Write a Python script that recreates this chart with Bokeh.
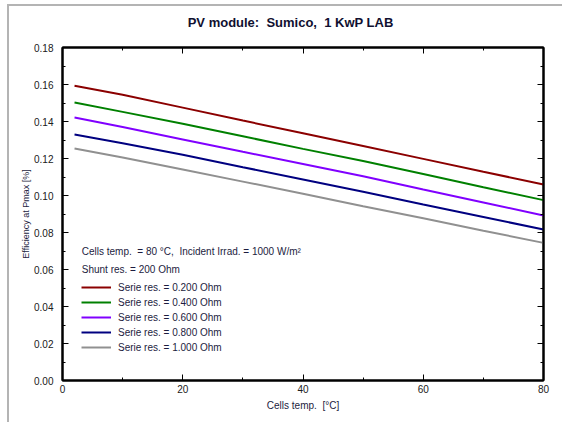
from bokeh.plotting import figure
from bokeh.layouts import column
from bokeh.models import (LinearAxis, FixedTicker, NumeralTickFormatter, Legend, LegendItem,
                          Label, Range1d, Div)
from bokeh.embed import file_html
from bokeh.resources import INLINE

# ---- data ----
temps = [2, 10, 20, 30, 40, 50, 60, 70, 80]
eff_r020 = [0.1593, 0.1545, 0.1475, 0.1405, 0.1337, 0.1268, 0.1198, 0.1128, 0.1060]
eff_r040 = [0.1503, 0.1452, 0.1388, 0.1320, 0.1252, 0.1186, 0.1116, 0.1045, 0.0975]
eff_r060 = [0.1422, 0.1370, 0.1303, 0.1236, 0.1170, 0.1104, 0.1032, 0.0962, 0.0892]
eff_r080 = [0.1330, 0.1283, 0.1220, 0.1153, 0.1087, 0.1020, 0.0951, 0.0884, 0.0816]
eff_r100 = [0.1254, 0.1205, 0.1140, 0.1075, 0.1010, 0.0942, 0.0877, 0.0810, 0.0744]
series_labels = ["Serie res. = 0.200 Ohm", "Serie res. = 0.400 Ohm", "Serie res. = 0.600 Ohm",
                 "Serie res. = 0.800 Ohm", "Serie res. = 1.000 Ohm"]
series_colors = ["#8b0000", "#008000", "#8000ff", "#000080", "#909090"]
x_ticks = [0, 20, 40, 60, 80]
x_minor = [10, 30, 50, 70]
y_ticks = [0.00, 0.02, 0.04, 0.06, 0.08, 0.10, 0.12, 0.14, 0.16, 0.18]
y_minor = [0.01, 0.03, 0.05, 0.07, 0.09, 0.11, 0.13, 0.15, 0.17]

FONT = "Liberation Sans"
TXT = "#1c1c40"
NB = "\u00a0"

p = figure(width=553, height=389, output_backend="svg", toolbar_location=None,
           x_range=Range1d(0, 80), y_range=Range1d(0, 0.18),
           x_axis_location=None, y_axis_location=None,
           min_border_left=53, min_border_right=19, min_border_top=14, min_border_bottom=42)
p.grid.visible = False
p.outline_line_color = "black"
p.outline_line_width = 2
p.background_fill_color = "white"
p.border_fill_alpha = 0


def make_axis(ticks, minor, show_labels):
    ax = LinearAxis(ticker=FixedTicker(ticks=ticks, minor_ticks=minor))
    ax.major_tick_in = 6
    ax.major_tick_out = 0
    ax.minor_tick_in = 3
    ax.minor_tick_out = 0
    ax.axis_line_width = 2
    ax.major_tick_line_width = 1
    ax.axis_line_color = "black"
    ax.major_label_text_font = FONT
    ax.major_label_text_font_size = "10px"
    ax.major_label_text_color = "#202020"
    if not show_labels:
        ax.major_label_overrides = {t: "" for t in ticks}
        ax.major_label_standoff = 0
    return ax


xa = make_axis(x_ticks, x_minor, True)
xa.axis_label = "Cells temp." + NB + " [°C]"
xa.axis_label_text_font = FONT
xa.axis_label_text_font_size = "10px"
xa.axis_label_text_font_style = "normal"
xa.axis_label_text_color = TXT
xa.axis_label_standoff = 4
xa.major_label_standoff = 4
p.add_layout(xa, "below")

ya = make_axis(y_ticks, y_minor, True)
ya.formatter = NumeralTickFormatter(format="0.00")
ya.axis_label = "Efficiency at Pmax [%]"
ya.axis_label_text_font = FONT
ya.axis_label_text_font_size = "9px"
ya.axis_label_text_font_style = "normal"
ya.axis_label_text_color = TXT
ya.axis_label_standoff = 0
ya.major_label_standoff = 9
p.add_layout(ya, "left")

p.add_layout(make_axis(x_ticks, x_minor, False), "above")
p.add_layout(make_axis(y_ticks, y_minor, False), "right")

items = []
for vals, lab, col in zip([eff_r020, eff_r040, eff_r060, eff_r080, eff_r100], series_labels, series_colors):
    r = p.line(temps, vals, line_color=col, line_width=2)
    items.append(LegendItem(label=lab, renderers=[r]))

legend = Legend(items=items, location=(19, 26), glyph_width=30, glyph_height=14,
                label_height=14, spacing=1, label_standoff=7, padding=0, margin=0,
                border_line_color=None, background_fill_alpha=0,
                label_text_font=FONT, label_text_font_size="10px", label_text_color=TXT)
p.add_layout(legend, "center")

p.add_layout(Label(x=3.2, y=0.0697,
                   text="Cells temp." + NB + " = 80 °C," + NB + " Incident Irrad. = 1000 W/m²",
                   text_font=FONT, text_font_size="10px", text_color=TXT, text_baseline="middle"))
p.add_layout(Label(x=3.2, y=0.0600, text="Shunt res. = 200 Ohm",
                   text_font=FONT, text_font_size="10px", text_color=TXT, text_baseline="middle"))

title_div = Div(text="PV module:&nbsp; Sumico,&nbsp; 1 KwP LAB", width=553, height=17,
                styles={"font-family": FONT, "font-size": "13px", "font-weight": "bold",
                        "color": "#101030", "text-align": "center", "line-height": "24px",
                        "overflow": "visible"})

layout = column(title_div, p, spacing=0)
layout.styles = {"border-left": "2px solid #b4b4b4", "border-top": "2px solid #b4b4b4",
                 "margin-left": "7px", "margin-top": "4px", "background": "white"}

open("out.html", "w").write(file_html(layout, INLINE))
